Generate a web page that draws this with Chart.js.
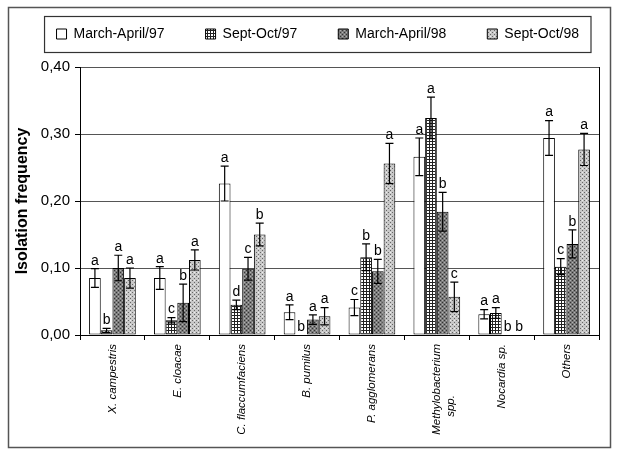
<!DOCTYPE html>
<html>
<head>
<meta charset="utf-8">
<script src="https://cdn.jsdelivr.net/npm/chart.js@4.4.1/dist/chart.umd.min.js"></script>
<style>
  html, body { margin: 0; padding: 0; background: #fff; }
  #wrap { width: 620px; height: 456px; }
</style>
</head>
<body>
<div id="wrap"><canvas id="chart" width="620" height="456"></canvas></div>
<script>
// categories and series values (isolation frequency)
const categories = ['X. campestris', 'E. cloacae', 'C. flaccumfaciens', 'B. pumilus',
  'P. agglomerans', ['Methylobacterium', 'spp.                '], 'Nocardia sp.', 'Others'];
const seriesNames = ['March-April/97', 'Sept-Oct/97', 'March-April/98', 'Sept-Oct/98'];

const marApr97 = [0.085, 0.085, 0.226, 0.034, 0.041, 0.266, 0.031, 0.294];
const sepOct97 = [0.007, 0.022, 0.045, 0.000, 0.116, 0.324, 0.033, 0.102];
const marApr98 = [0.100, 0.048, 0.099, 0.023, 0.095, 0.184, 0.000, 0.136];
const sepOct98 = [0.085, 0.112, 0.150, 0.028, 0.256, 0.057, 0.000, 0.277];

const errMarApr97 = [0.014, 0.017, 0.026, 0.011, 0.012, 0.028, 0.007, 0.026];
const errSepOct97 = [0.003, 0.004, 0.007, 0.000, 0.020, 0.031, 0.008, 0.012];
const errMarApr98 = [0.019, 0.028, 0.017, 0.007, 0.018, 0.029, 0.000, 0.021];
const errSepOct98 = [0.015, 0.015, 0.017, 0.013, 0.030, 0.022, 0.000, 0.024];

const letMarApr97 = ['a', 'a', 'a', 'a', 'c', 'a', 'a', 'a'];
const letSepOct97 = ['b', 'c', 'd', 'b', 'b', 'a', 'a', 'c'];
const letMarApr98 = ['a', 'b', 'c', 'a', 'b', 'b', 'b', 'b'];
const letSepOct98 = ['a', 'a', 'b', 'a', 'a', 'c', 'b', 'a'];

const yTicks = [0, 0.1, 0.2, 0.3, 0.4];

// fill patterns like the old b/w print
function makePattern(size, draw) {
  const c = document.createElement('canvas');
  c.width = size; c.height = size;
  const g = c.getContext('2d');
  draw(g);
  return document.getElementById('chart').getContext('2d').createPattern(c, 'repeat');
}
const gridPat = makePattern(3, function(g) {
  g.fillStyle = '#fff'; g.fillRect(0, 0, 3, 3);
  g.fillStyle = '#222'; g.fillRect(0, 0, 3, 1); g.fillRect(0, 0, 1, 3);
});
const darkPat = makePattern(4, function(g) {
  g.fillStyle = '#7a7a7a'; g.fillRect(0, 0, 4, 4);
  g.fillStyle = '#333'; g.fillRect(0, 0, 1, 1); g.fillRect(2, 2, 1, 1);
  g.fillStyle = '#b0b0b0'; g.fillRect(2, 0, 1, 1); g.fillRect(0, 2, 1, 1);
});
const lightPat = makePattern(4, function(g) {
  g.fillStyle = '#c8c8c8'; g.fillRect(0, 0, 4, 4);
  g.fillStyle = '#666'; g.fillRect(0, 0, 1, 1); g.fillRect(2, 2, 1, 1);
  g.fillStyle = '#eee'; g.fillRect(2, 0, 1, 1);
});

const frame = {
  id: 'frame',
  beforeDraw(chart) {
    const ctx = chart.ctx;
    ctx.save();
    ctx.fillStyle = '#fff';
    ctx.fillRect(0, 0, chart.width, chart.height);
    ctx.strokeStyle = '#555';
    ctx.lineWidth = 1.5;
    ctx.strokeRect(8.5, 7.5, 602, 440);
    ctx.restore();
  },
  afterDraw(chart) {
    // box around the legend
    const boxes = chart.legend.legendHitBoxes;
    if (!boxes || !boxes.length) return;
    const l = boxes[0].left - 12;
    const r = boxes[boxes.length - 1].left + boxes[boxes.length - 1].width + 12;
    const ctx = chart.ctx;
    ctx.save();
    ctx.strokeStyle = '#333';
    ctx.lineWidth = 1.2;
    ctx.strokeRect(l, 16.5, r - l, 36);
    ctx.restore();
  }
};

// error bars and significance letters
const errorBars = {
  id: 'errorBars',
  afterDatasetsDraw(chart) {
    const ctx = chart.ctx;
    const y = chart.scales.y;
    ctx.save();
    ctx.strokeStyle = '#000';
    ctx.fillStyle = '#000';
    ctx.lineWidth = 1.2;
    ctx.font = '14px "Liberation Sans", Arial, sans-serif';
    ctx.textAlign = 'center';
    ctx.textBaseline = 'bottom';
    chart.data.datasets.forEach(function(ds, di) {
      const meta = chart.getDatasetMeta(di);
      meta.data.forEach(function(bar, i) {
        const v = ds.data[i], e = ds.errors[i];
        let top = y.getPixelForValue(v);
        if (e > 0) {
          const hi = y.getPixelForValue(v + e), lo = y.getPixelForValue(Math.max(v - e, 0));
          ctx.beginPath();
          ctx.moveTo(bar.x, lo); ctx.lineTo(bar.x, hi);
          ctx.moveTo(bar.x - 4, hi); ctx.lineTo(bar.x + 4, hi);
          ctx.moveTo(bar.x - 4, lo); ctx.lineTo(bar.x + 4, lo);
          ctx.stroke();
          top = hi;
        }
        ctx.fillText(ds.letters[i], bar.x, top - 1);
      });
    });
    ctx.restore();
  }
};

const barData = {
  labels: categories,
  datasets: [
    { label: seriesNames[0], data: marApr97, errors: errMarApr97, letters: letMarApr97, backgroundColor: '#fff' },
    { label: seriesNames[1], data: sepOct97, errors: errSepOct97, letters: letSepOct97, backgroundColor: gridPat },
    { label: seriesNames[2], data: marApr98, errors: errMarApr98, letters: letMarApr98, backgroundColor: darkPat },
    { label: seriesNames[3], data: sepOct98, errors: errSepOct98, letters: letSepOct98, backgroundColor: lightPat }
  ].map(function(d) {
    return Object.assign(d, { borderColor: '#000', borderWidth: 1, borderSkipped: false,
      categoryPercentage: 0.72, barPercentage: 1.0 });
  })
};

const ctx = document.getElementById('chart');
new Chart(ctx, {
  type: 'bar',
  data: barData,
  options: {
    responsive: false,
    animation: false,
    layout: { padding: { top: -14, left: 0, right: 0, bottom: 0 } },
    plugins: {
      tooltip: { enabled: false },
      legend: {
        position: 'top',
        align: 'end',
        labels: {
          color: '#000',
          boxWidth: 10,
          boxHeight: 10,
          padding: 41,
          font: { family: '"Liberation Sans", Arial, sans-serif', size: 14 }
        }
      }
    },
    scales: {
      x: {
        grid: { display: true, drawOnChartArea: false, drawTicks: true, tickLength: 5, tickColor: '#000', offset: true },
        border: { display: true, color: '#000', width: 1 },
        ticks: {
          color: '#000',
          minRotation: 90,
          maxRotation: 90,
          autoSkip: false,
          padding: 4,
          font: { family: '"Liberation Sans", Arial, sans-serif', size: 11.5, style: 'italic' }
        },
        afterFit: function(scale) { scale.height = 121; }
      },
      // empty strip between legend and plot
      xTop: {
        position: 'top',
        grid: { display: false },
        ticks: { display: false },
        border: { display: false },
        afterFit: function(scale) { scale.height = 16; }
      },
      y: {
        min: 0,
        max: 0.4,
        afterBuildTicks: function(scale) { scale.ticks = yTicks.map(function(v) { return { value: v }; }); },
        grid: { color: '#555', lineWidth: 1, drawTicks: true, tickLength: 5, tickColor: '#000' },
        border: { display: true, color: '#000', width: 1 },
        ticks: {
          color: '#000',
          padding: 5,
          font: { family: '"Liberation Sans", Arial, sans-serif', size: 15 },
          callback: function(v) { return v.toFixed(2).replace('.', ','); }
        },
        title: {
          display: true,
          text: 'Isolation frequency',
          color: '#000',
          padding: { top: 13, bottom: 0 },
          font: { family: '"Liberation Sans", Arial, sans-serif', size: 16, weight: 'bold' }
        },
        afterFit: function(scale) { scale.width = 80; }
      },
      y2: {
        position: 'right',
        min: 0,
        max: 0.4,
        grid: { display: false },
        ticks: { display: false },
        border: { display: true, color: '#000', width: 1 },
        afterFit: function(scale) { scale.width = 21; }
      }
    }
  },
  plugins: [frame, errorBars]
});
</script>
</body>
</html>
